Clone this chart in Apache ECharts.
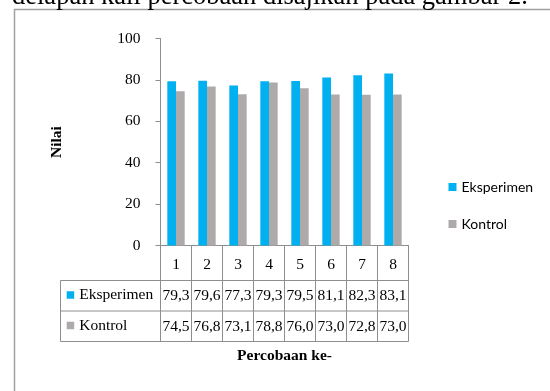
<!DOCTYPE html>
<html>
<head>
<meta charset="utf-8">
<script src="https://cdn.jsdelivr.net/npm/echarts@6/dist/echarts.min.js"></script>
<style>
html,body{margin:0;padding:0;background:#fff;}
#chart{width:550px;height:391px;}
</style>
</head>
<body>
<div id="chart"></div>
<script>
var categories = ['1', '2', '3', '4', '5', '6', '7', '8'];
var seriesNames = ['Eksperimen', 'Kontrol'];
var eksperimen = [79.3, 79.6, 77.3, 79.3, 79.5, 81.1, 82.3, 83.1];
var kontrol = [74.5, 76.8, 73.1, 78.8, 76.0, 73.0, 72.8, 73.0];
var yTicks = { min: 0, max: 100, interval: 20 };
var captionText = 'delapan kali percobaan disajikan pada gambar 2.';
var yName = 'Nilai';
var xName = 'Percobaan ke-';

var colors = ['#00B0F0', '#AEAAAA'];
var serif = 'Liberation Serif';
var lineGray = '#8e8e8e';

// layout
var gL = 160.5, gR = 408.5, gT = 38.5, gB = 245.5;
var row1 = 280.5, row2 = 311, row3 = 341.5, tableLeft = 60.5;

function fmt(v) { return v.toFixed(1).replace('.', ','); }

var chart = echarts.init(document.getElementById('chart'));
chart.setOption({
  animation: false,
  color: colors,
  grid: { left: gL, right: 550 - gR, top: gT, bottom: 391 - gB },
  legend: [
    {
      orient: 'vertical', left: 443.5, top: 175, padding: 5,
      itemWidth: 8, itemHeight: 8, itemGap: 23,
      icon: 'rect',
      textStyle: { fontFamily: 'Lato', fontSize: 14, color: '#000' },
      data: seriesNames
    },
    {
      orient: 'vertical', left: 61.7, top: 282, padding: 5,
      itemWidth: 7.5, itemHeight: 7.5, itemGap: 14.5,
      icon: 'rect',
      textStyle: { fontFamily: serif, fontSize: 15.5, color: '#000' },
      data: seriesNames
    }
  ],
  xAxis: [
    {
      type: 'category', data: categories, gridIndex: 0, position: 'bottom',
      axisLine: { lineStyle: { color: lineGray, width: 1 } },
      axisTick: { show: true, interval: 0, alignWithLabel: false, length: row3 - gB, lineStyle: { color: lineGray } },
      axisLabel: { margin: 11.5, fontFamily: serif, fontSize: 15.5, color: '#000', interval: 0 },
      name: xName, nameLocation: 'middle', nameGap: 102,
      nameTextStyle: { fontFamily: serif, fontSize: 15.5, fontWeight: 'bold', color: '#000' }
    },
    {
      type: 'category', data: categories, gridIndex: 0, position: 'bottom', offset: row1 - gB,
      axisLine: { show: false }, axisTick: { show: false },
      axisLabel: { margin: 7.5, fontFamily: serif, fontSize: 15.5, color: '#000', interval: 0,
        formatter: function (v, i) { return fmt(eksperimen[i]); } }
    },
    {
      type: 'category', data: categories, gridIndex: 0, position: 'bottom', offset: row2 - gB,
      axisLine: { show: false }, axisTick: { show: false },
      axisLabel: { margin: 7.5, fontFamily: serif, fontSize: 15.5, color: '#000', interval: 0,
        formatter: function (v, i) { return fmt(kontrol[i]); } }
    }
  ],
  yAxis: {
    type: 'value', min: yTicks.min, max: yTicks.max, interval: yTicks.interval,
    axisLine: { show: true, lineStyle: { color: lineGray } },
    axisTick: { show: true, length: 5, lineStyle: { color: lineGray } },
    splitLine: { show: false },
    axisLabel: { margin: 20, fontFamily: serif, fontSize: 15.5, color: '#000' },
    name: yName, nameLocation: 'middle', nameRotate: 90, nameGap: 96,
    nameTextStyle: { fontFamily: serif, fontSize: 15.5, fontWeight: 'bold', color: '#000' }
  },
  series: [
    { name: seriesNames[0], type: 'bar', data: eksperimen, barGap: '0%', barCategoryGap: '44%' },
    { name: seriesNames[1], type: 'bar', data: kontrol, barGap: '0%', barCategoryGap: '44%' }
  ],
  graphic: [
    { type: 'rect', shape: { x: 14.5, y: 9.5, width: 700, height: 600 }, style: { fill: 'none', stroke: '#a0a0a0', lineWidth: 1.5 }, silent: true },
    { type: 'text', x: 12, y: -3.4, style: { text: captionText, font: '26.5px "Liberation Serif"', fill: '#000', verticalAlign: 'middle' }, silent: true },
    { type: 'line', shape: { x1: tableLeft, y1: row1, x2: gR, y2: row1 }, style: { stroke: lineGray, lineWidth: 1 }, silent: true },
    { type: 'line', shape: { x1: tableLeft, y1: row2, x2: gR, y2: row2 }, style: { stroke: lineGray, lineWidth: 1 }, silent: true },
    { type: 'line', shape: { x1: tableLeft, y1: row3, x2: gR, y2: row3 }, style: { stroke: lineGray, lineWidth: 1 }, silent: true },
    { type: 'line', shape: { x1: tableLeft, y1: row1, x2: tableLeft, y2: row3 }, style: { stroke: lineGray, lineWidth: 1 }, silent: true }
  ]
});
</script>
</body>
</html>
